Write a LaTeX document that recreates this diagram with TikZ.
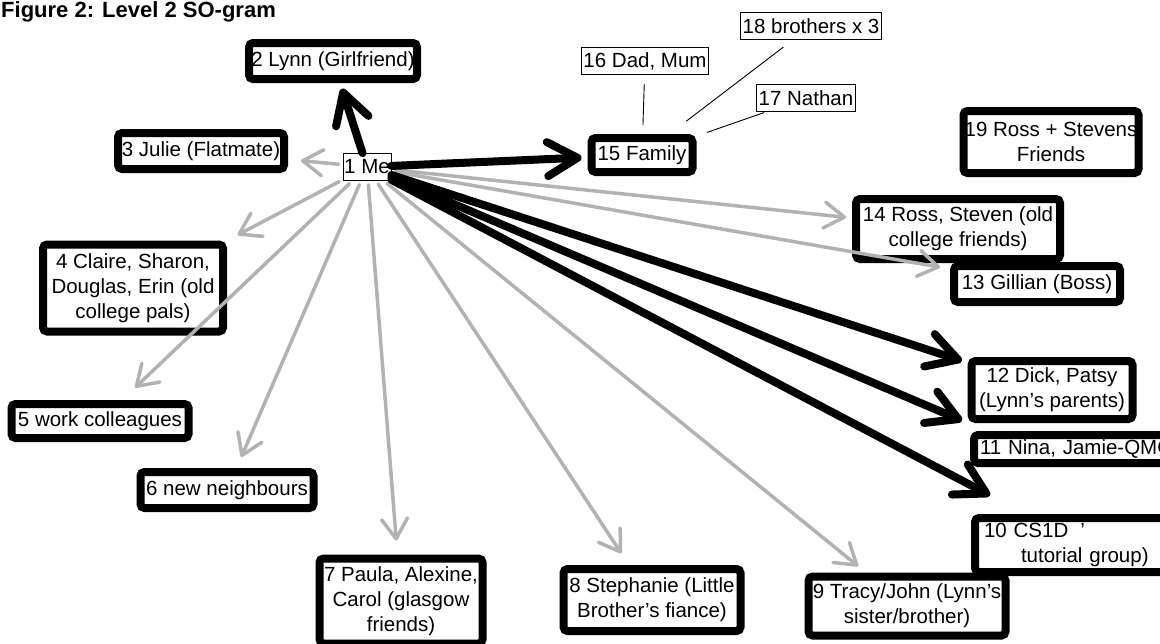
\documentclass[tikz,border=0pt]{standalone}
\usepackage{fontspec}
\setmainfont{Liberation Sans}
\usetikzlibrary{arrows.meta}

\begin{document}
\begin{tikzpicture}[
        x=1pt, y=-1pt,
        person/.style={draw, line width=8pt, rounded corners=4pt, fill=white, align=center,
            inner sep=0pt, font=\fontsize{20.5}{25}\selectfont},
        plain/.style={draw, line width=0.8pt, fill=white, inner xsep=2pt, inner ysep=0pt,
            minimum height=27pt, font=\fontsize{20.5}{24}\selectfont},
        strong/.style={line width=8pt, line cap=round, -{Straight Barb[length=30pt,width=34pt,round]}, shorten >=6pt},
        weak/.style={line width=3.5pt, gray!60, line cap=round, -{Straight Barb[length=20pt,width=26pt,round]}, shorten <=4pt},
        link/.style={line width=0.9pt}
    ]
    \useasboundingbox (0,0) rectangle (1160,643);

    % Title
    \node[anchor=north west, inner sep=0pt, font=\fontsize{22}{26}\selectfont\bfseries] (title) at (1,1) {Figure 2: Level 2 SO-gram};

    % Nodes
    \node[plain, minimum width=48pt, inner xsep=0pt] (me) at (367,167) {1 Me};

    \node[person, minimum width=168pt, minimum height=36pt] (lynn) at (333,61) {2 Lynn (Girlfriend)};
    \node[person, minimum width=166pt, minimum height=36pt] (julie) at (201,151) {3 Julie (Flatmate)};
    \node[person, minimum width=180pt, minimum height=87pt] (claire) at (133,288) {4 Claire, Sharon,\\ Douglas, Erin (old\\ college pals)};
    \node[person, minimum width=177pt, minimum height=34pt] (work) at (100,421) {5 work colleagues};
    \node[person, minimum width=173pt, minimum height=36pt] (neigh) at (227,490) {6 new neighbours};
    \node[person, minimum width=163pt, minimum height=85pt] (paula) at (401,601) {7 Paula, Alexine,\\ Carol (glasgow\\ friends)};
    \node[person, minimum width=177pt, minimum height=62pt] (stephanie) at (652,600) {8 Stephanie (Little\\ Brother's fiance)};
    \node[person, minimum width=197pt, minimum height=59pt] (tracy) at (907,606) {9 Tracy/John (Lynn's\\ sister/brother)};
    \node[person, anchor=north west, text width=200pt, align=left, inner xsep=9pt, minimum height=54pt] (cs1d) at (971,514)
        {10 CS1D\hspace{12pt}'\\ \hspace{37pt}tutorial group)};
    \node[person, anchor=west, text width=200pt, align=left, inner xsep=6pt, minimum height=28pt] (nina) at (970,449) {11 Nina, Jamie-QMC};
    \node[person, minimum width=161pt, minimum height=58pt] (dick) at (1052,390) {12 Dick, Patsy\\ (Lynn's parents)};
    \node[person, minimum width=204pt, minimum height=60pt] (ross14) at (958,229) {14 Ross, Steven (old\\ college friends)};
    \node[person, minimum width=166pt, minimum height=36pt] (gillian) at (1037,284) {13 Gillian (Boss)};
    \node[person, minimum width=101pt, minimum height=34pt] (family) at (642,155) {15 Family};
    \node[plain] (dad) at (645,61) {16 Dad, Mum};
    \node[plain] (nathan) at (806,98) {17 Nathan};
    \node[plain] (bros) at (811,26) {18 brothers x 3};
    \node[person, minimum width=175pt, minimum height=62pt] (ross19) at (1051,142) {19 Ross + Stevens\\ Friends};

    % Edges
    \draw[link, shorten <=9pt, shorten >=9pt] (family) -- (dad);
    \draw[link, shorten <=21pt, shorten >=12pt] (family) -- (bros);
    \draw[link, shorten <=11pt, shorten >=2pt] (family) -- (nathan);

    \draw[weak, shorten >=13pt] (me) -- (julie);
    \draw[weak, shorten >=12pt] (me) -- (claire.north east);
    \draw[weak, shorten >=18pt] (me) -- (work);
    \draw[weak, shorten >=12pt] (me) -- (neigh);
    \draw[weak, shorten >=14pt] (me) -- (paula);
    \draw[weak, shorten >=14pt] (me) -- (stephanie);
    \draw[weak, shorten >=10pt] (me) -- (tracy);
    \draw[weak, shorten >=6pt] (me) -- (ross14);
    \draw[weak, shorten >=10pt] (me) -- (gillian);

    \draw[strong] (me) -- (lynn);
    \draw[strong] (me) -- (family);
    \draw[strong] (me) -- (dick);
    \draw[strong] (me) -- (dick.south west);
    \draw[strong, shorten >=40pt] (me) -- (cs1d);

\end{tikzpicture}
\end{document}
